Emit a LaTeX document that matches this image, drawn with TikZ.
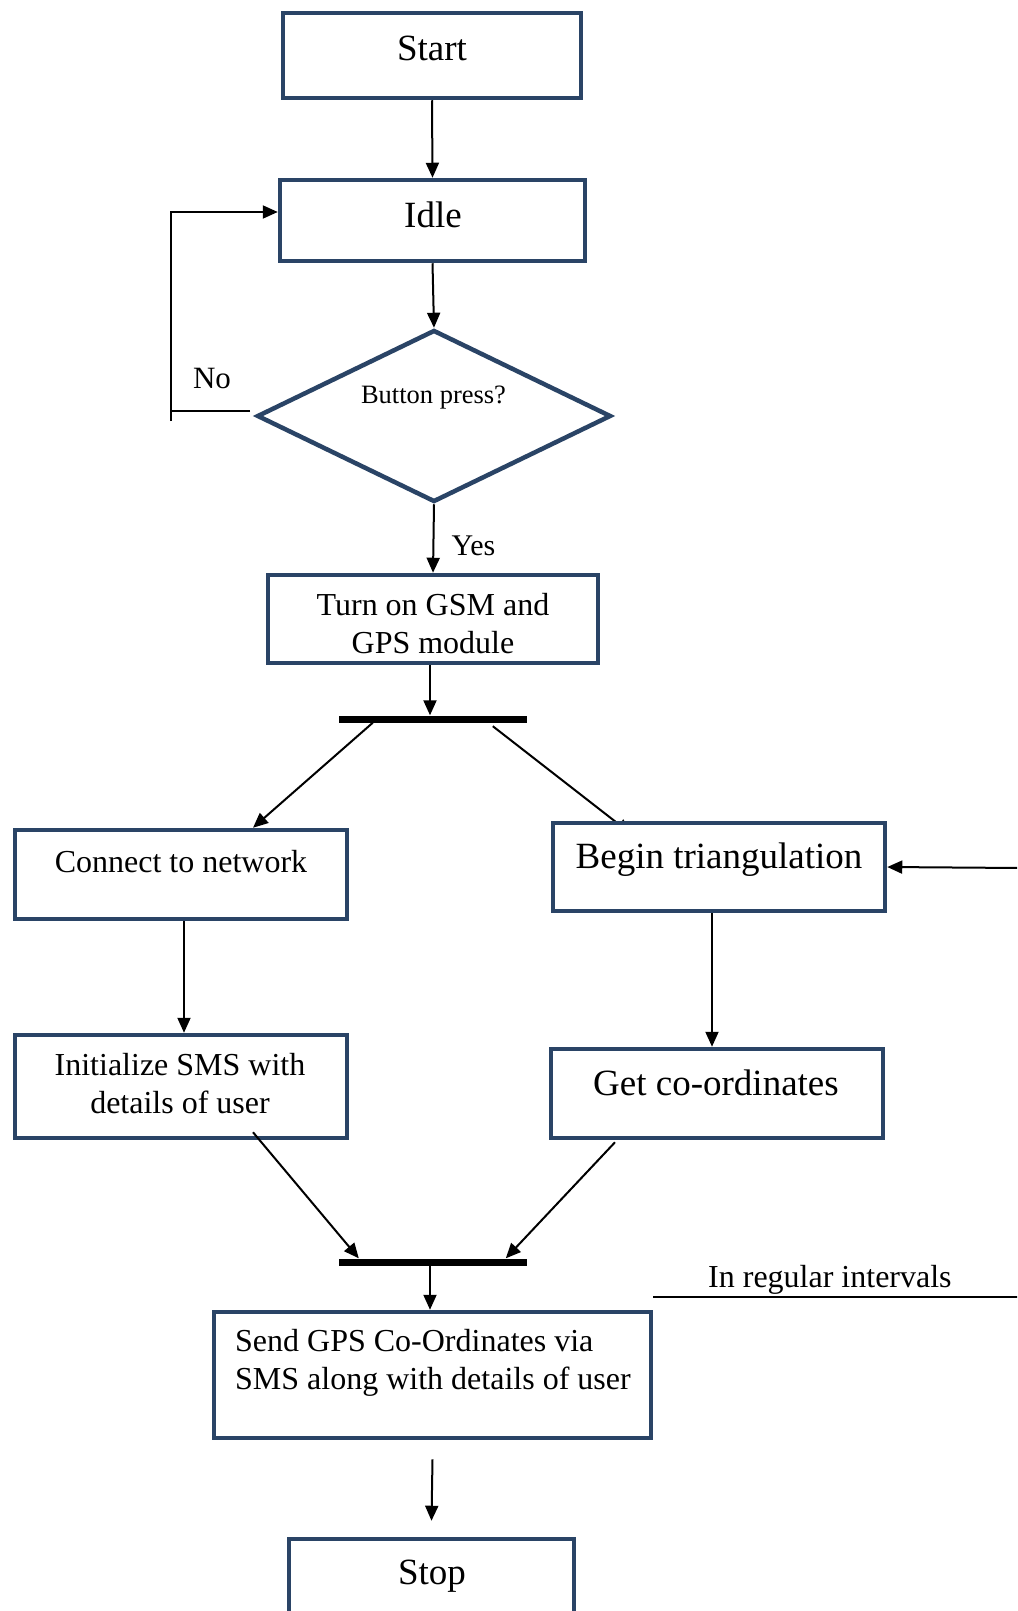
\documentclass[tikz,border=0pt]{standalone}
\usepackage{fontspec}
\setmainfont{Liberation Serif}
\usetikzlibrary{arrows.meta,shapes.geometric}
\definecolor{boxblue}{RGB}{42,68,102}
\pgfdeclarelayer{bg}
\pgfsetlayers{bg,main}
\begin{document}
\begin{tikzpicture}[x=1pt,y=-1pt,
  box/.style={draw=boxblue,line width=4.5pt,fill=white,rectangle,inner sep=0pt},
  dec/.style={draw=boxblue,line width=4.5pt,fill=white,diamond,inner sep=0pt},
  bar/.style={fill=black,rectangle,inner sep=0pt,minimum width=188pt,minimum height=7pt},
  conn/.style={line width=2pt,black},
  arr/.style={conn,-{Triangle[length=15pt,width=13pt]}},
  bigtxt/.style={font=\fontsize{37}{40}\selectfont,anchor=base,inner sep=0pt},
  midtxt/.style={font=\fontsize{32}{38}\selectfont,anchor=base,inner sep=0pt},
  smalltxt/.style={font=\fontsize{26.5}{30}\selectfont,anchor=base,inner sep=0pt},
]
\clip (0,0) rectangle (1017,1611);
\begin{pgfonlayer}{bg}
\fill[white] (0,0) rectangle (1017,1611);
\end{pgfonlayer}

% boxes
\node[box,minimum width=298pt,minimum height=85pt] (start) at (432,55.5) {};
\node[box,minimum width=305pt,minimum height=81pt] (idle) at (432.5,220.5) {};
\node[dec,minimum width=354pt,minimum height=172pt] (dec) at (434,416) {};
\node[box,minimum width=330pt,minimum height=88pt] (turnon) at (433,619) {};
\node[bar] (bar1) at (433,719) {};
\node[box,minimum width=332pt,minimum height=89pt] (connect) at (181,874.5) {};
\node[box,minimum width=332pt,minimum height=88pt] (begin) at (719,867) {};
\node[box,minimum width=332pt,minimum height=103pt] (init) at (181,1086.5) {};
\node[box,minimum width=332pt,minimum height=89pt] (get) at (717,1093.5) {};
\node[bar] (bar2) at (433,1262) {};
\node[box,minimum width=437pt,minimum height=126pt] (send) at (432.5,1375) {};
\node[box,minimum width=285pt,minimum height=85pt] (stop) at (431.5,1581.5) {};

% texts
\node[bigtxt] (start-t) at (432,61) {Start};
\node[bigtxt] (idle-t) at (433,227) {Idle};
\node[smalltxt] (dec-t) at (433.5,403) {Button press?};
\node[midtxt,font=\fontsize{31}{34}\selectfont] (no) at (212,388) {No};
\node[midtxt,font=\fontsize{30}{34}\selectfont] (yes) at (473.5,555) {Yes};
\node[midtxt,text width=330pt,align=flush center] (turnon-t) at (433,615) {Turn on GSM and\\GPS module};
\node[midtxt] (connect-t) at (181,872) {Connect to network};
\node[bigtxt] (begin-t) at (719,868) {Begin triangulation};
\node[midtxt,text width=330pt,align=flush center] (init-t) at (180,1075) {Initialize SMS with\\details of user};
\node[bigtxt] (get-t) at (716,1095) {Get co-ordinates};
\node[midtxt,anchor=base west] (ivl) at (708,1287.5) {In regular intervals};
\node[midtxt,text width=420pt,align=flush left,anchor=base west] (send-t) at (235,1351) {Send GPS Co-Ordinates via\\SMS along with details of user};
\node[bigtxt] (stop-t) at (432,1584.5) {Stop};

% connectors
\draw[arr] (start.south) -- (idle.north);
\draw[arr] (idle.south) -- (dec.north);
\draw[arr] (dec.south) -- (turnon.north);

\coordinate (noa) at (250,411);
\coordinate (nob) at (171,411);
\coordinate (noc) at (171,421);
\coordinate (nod) at (171,212);
\draw[conn] (noa) -- (nob);
\draw[arr] (noc) -- (nod) -- (idle.west |- nod);

\draw[arr] ([xshift=-3pt]turnon.south) -- ([xshift=-3pt]bar1.north);
\draw[arr] ([xshift=34pt]bar1.south west) -- ([xshift=72pt]connect.north);
\begin{pgfonlayer}{bg}
\draw[arr] ([xshift=154pt,yshift=-3.5pt]bar1.south west) -- ([xshift=-88pt,yshift=-13pt]begin.north);
\end{pgfonlayer}

\draw[arr] ([xshift=3pt]connect.south) -- ([xshift=3pt]init.north);
\draw[arr] ([xshift=-7pt]begin.south) -- ([xshift=-5pt]get.north);

\draw[arr] ([xshift=72pt,yshift=8pt]init.south) -- ([xshift=20pt]bar2.north west);
\draw[arr] ([xshift=-102pt,yshift=-2pt]get.south) -- ([xshift=167pt]bar2.north west);

\draw[arr] ([xshift=-3pt]bar2.south) -- ([xshift=-2.5pt]send.north);
\draw[arr] ([yshift=-19pt]send.south) -- ([yshift=16pt]stop.north);

\coordinate (feed) at (1020,868);
\draw[arr] (feed) -- (begin.east);

\coordinate (ivl-a) at (653,1297);
\coordinate (ivl-b) at (1020,1297);
\draw[conn,line width=1.5pt] (ivl-a) -- (ivl-b);
\end{tikzpicture}
\end{document}
